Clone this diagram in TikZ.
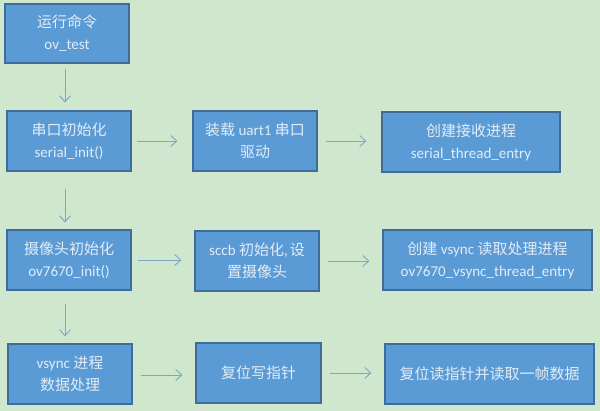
\documentclass[tikz,border=0pt]{standalone}
\usepackage{fontspec}
\setmainfont{Carlito}
\newfontfamily\cjk{Noto Sans CJK SC}
\usetikzlibrary{arrows.meta}
\definecolor{bg}{RGB}{206,231,205}
\definecolor{boxfill}{RGB}{91,155,213}
\definecolor{boxline}{RGB}{62,108,155}
\definecolor{txt}{RGB}{226,236,246}
\definecolor{arr}{RGB}{125,167,199}
\tikzset{
  box/.style={draw=boxline, line width=1.2pt, fill=boxfill, rectangle, inner sep=0pt,
    text=txt, align=center, font=\fontsize{15}{22}\selectfont},
  flow/.style={draw=arr, line width=0.9pt, -{Straight Barb[length=6pt,width=11pt,line width=0.9pt]}},
}
\newcommand{\bx}[6]{% name, x1,y1,x2,y2, text
  \node[box, minimum width={(#4-#2)*1pt}, minimum height={(#5-#3)*1pt}]
    (#1) at ({(#2+#4)/2},{(#3+#5)/2}) {#6};}
\begin{document}
\begin{tikzpicture}[x=1pt,y=-1pt]
\fill[bg] (0,0) rectangle (600,411);
\useasboundingbox (0,0) rectangle (600,411);
\bx{b1}{5}{4}{129}{63}{{\cjk 运行命令}\\ov\_test}
\bx{b2}{7}{111}{131}{171}{{\cjk 串口初始化}\\serial\_init()}
\bx{b3}{193}{111}{317}{171}{{\cjk 装载} uart1 {\cjk 串口}\\{\cjk 驱动}}
\bx{b4}{382}{112}{560}{172}{{\cjk 创建接收进程}\\serial\_thread\_entry}
\bx{b5}{7}{230}{131}{290}{{\cjk 摄像头初始化}\\ov7670\_init()}
\bx{b6}{195}{231}{319}{291}{sccb {\cjk 初始化},\kern2pt{\cjk 设}\\{\cjk 置摄像头}}
\bx{b7}{383}{230}{592}{290}{{\cjk 创建} vsync {\cjk 读取处理进程}\\ov7670\_vsync\_thread\_entry}
\bx{b8}{8}{344}{132}{404}{vsync {\cjk 进程}\\{\cjk 数据处理}}
\bx{b9}{196}{343}{321}{403}{{\cjk 复位写指针}}
\bx{b10}{385}{344}{594}{404}{{\cjk 复位读指针并读取一帧数据}}
% vertical arrows
\draw[flow, shorten <=5pt, shorten >=8pt] ([xshift=-2pt]b1.south) -- ([xshift=-2pt]b1.south |- b2.north);
\draw[flow, shorten <=17pt, shorten >=7pt] ([xshift=-4pt]b2.south) -- ([xshift=-4pt]b2.south |- b5.north);
\draw[flow, shorten <=13pt, shorten >=7pt] ([xshift=-4pt]b5.south) -- ([xshift=-4pt]b5.south |- b8.north);
% horizontal arrows
\draw[flow, shorten <=5pt, shorten >=15pt] (b2.east) -- (b2.east -| b3.west);
\draw[flow, shorten <=8pt, shorten >=15pt] (b3.east) -- (b3.east -| b4.west);
\draw[flow, shorten <=6pt, shorten >=13pt] (b5.east) -- (b5.east -| b6.west);
\draw[flow, shorten <=8pt, shorten >=13pt] (b6.east) -- (b6.east -| b7.west);
\draw[flow, shorten <=8pt, shorten >=13pt] ([yshift=-1pt]b8.east) -- ([yshift=-1pt]b8.east -| b9.west);
\draw[flow, shorten <=8pt, shorten >=13pt] (b9.east) -- (b9.east -| b10.west);
\end{tikzpicture}
\end{document}
